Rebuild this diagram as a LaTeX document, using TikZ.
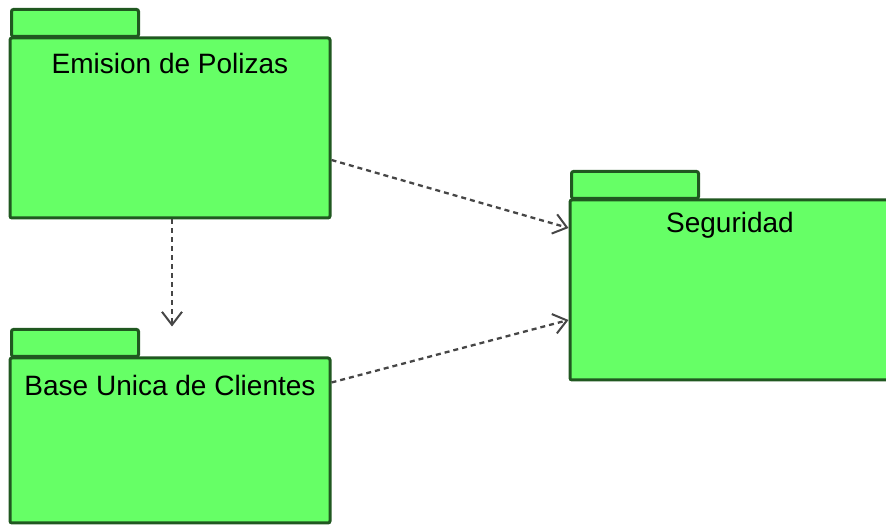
\documentclass[tikz,border=0pt]{standalone}
\usepackage{fontspec}
\setmainfont{Liberation Sans}
\usetikzlibrary{arrows.meta}

\definecolor{pkgfill}{RGB}{102,255,102}
\definecolor{pkgline}{RGB}{32,88,32}
\definecolor{deparrow}{RGB}{70,70,70}

\tikzset{
  pkg/.style={draw=pkgline, fill=pkgfill, line width=3pt, rounded corners=2pt,
    minimum width=320pt, inner sep=0pt},
  pkgtab/.style={draw=pkgline, fill=pkgfill, line width=3pt, rounded corners=2pt,
    minimum width=127pt, minimum height=27pt, inner sep=0pt, anchor=south west},
  pkgtitle/.style={font=\fontsize{28}{32}\selectfont, text=black, inner sep=0pt},
  depends/.style={draw=deparrow, line width=2.3pt, dash pattern=on 5pt off 4pt,
    -{Straight Barb[length=13pt, width=20pt, line width=2pt]}}
}

\begin{document}
\begin{tikzpicture}[x=1pt, y=1pt]
    \useasboundingbox (0,0) rectangle (886,532);

    % packages: tab first, body on top of it
    \node[pkgtab] (emisiontab) at (10,494) {};
    \node[pkg, minimum height=180pt] (emision) at (170,404) {};
    \node[pkgtitle] at ([yshift=-27pt]emision.north) {Emision de Polizas};

    \node[pkgtab] (basetab) at (10,174) {};
    \node[pkg, minimum height=165pt] (base) at (170,91.5) {};
    \node[pkgtitle] at ([yshift=-29pt]base.north) {Base Unica de Clientes};

    \node[pkgtab] (seguridadtab) at (570,332) {};
    \node[pkg, minimum height=180pt] (seguridad) at (730,242) {};
    \node[pkgtitle] at ([yshift=-27pt]seguridad.north) {Seguridad};

    % dependencies
    \draw[depends] ([yshift=-32pt]emision.east) -- ([yshift=62pt]seguridad.west);
    \draw[depends] ([yshift=58pt]base.east) -- ([yshift=-30pt]seguridad.west);
    \draw[depends] ([xshift=2pt]emision.south) -- ([xshift=2pt, yshift=30pt]base.north);
  \end{tikzpicture}
\end{document}
